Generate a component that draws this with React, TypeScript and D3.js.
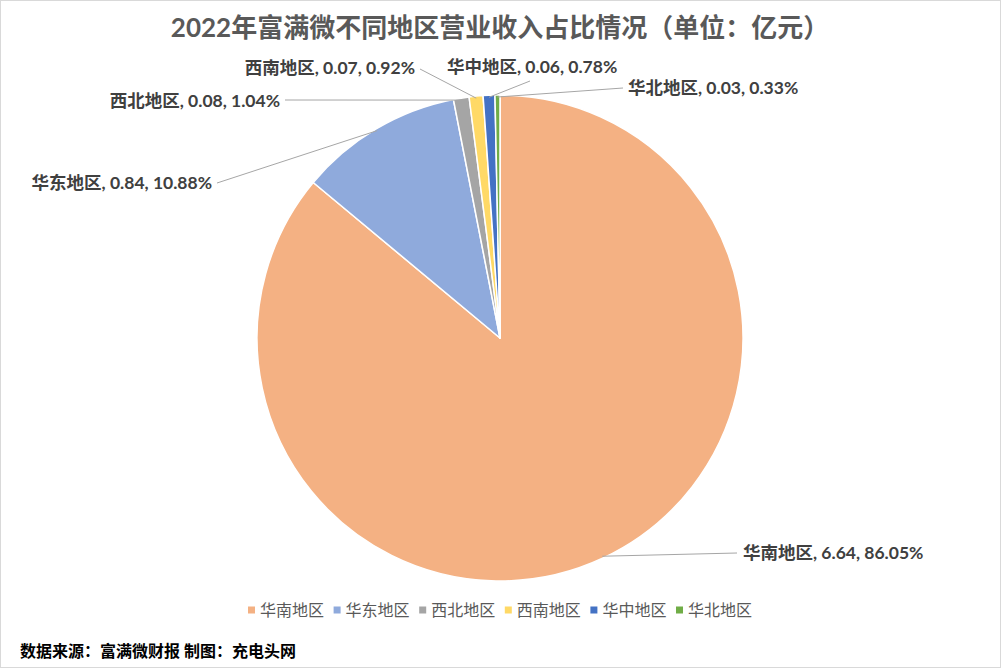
import React, { useEffect, useRef } from 'react';
import * as d3 from 'd3';

// Data
const regions = ['华南地区', '华东地区', '西北地区', '西南地区', '华中地区', '华北地区'];
const revenue = [6.64, 0.84, 0.08, 0.07, 0.06, 0.03];
const shares = [86.05, 10.88, 1.04, 0.92, 0.78, 0.33];
const colors = ['#F4B183', '#8FAADC', '#A5A5A5', '#FFD966', '#4472C4', '#70AD47'];

const title = '2022年富满微不同地区营业收入占比情况（单位：亿元）';
const footnote = '数据来源：富满微财报 制图：充电头网';

// Label layout (text anchor point + where the leader line leaves the label)
const labelLayout = [
  { x: 743, y: 553, anchor: 'start', lx: 737, ly: 553 },
  { x: 212, y: 183, anchor: 'end', lx: 217, ly: 183 },
  { x: 280, y: 101, anchor: 'end', lx: 285, ly: 100 },
  { x: 415, y: 68, anchor: 'end', lx: 420, ly: 69 },
  { x: 447, y: 67, anchor: 'start', lx: 530, ly: 81 },
  { x: 628, y: 88, anchor: 'start', lx: 623, ly: 88 },
];

const W = 1001;
const H = 668;
const FONT = "Lato, 'Noto Sans CJK SC', sans-serif";

const App: React.FC = () => {
  const svgRef = useRef<SVGSVGElement>(null);

  useEffect(() => {
    document.body.style.margin = '0';
    const svg = d3.select(svgRef.current);
    svg.selectAll('*').remove();

    svg.append('rect')
      .attr('x', 0.5).attr('y', 0.5)
      .attr('width', W - 1).attr('height', H - 1)
      .attr('fill', '#fff')
      .attr('stroke', '#D9D9D9');

    // Title
    svg.append('text')
      .attr('x', 500).attr('y', 28)
      .attr('dy', '0.35em')
      .attr('text-anchor', 'middle')
      .style('font-family', FONT)
      .style('font-size', '26px')
      .style('font-weight', 'bold')
      .style('fill', '#595959')
      .text(title);

    const cx = 500, cy = 338, r = 243;
    const data = regions.map((name, i) => ({ name, value: revenue[i], share: shares[i], color: colors[i] }));

    const pie = d3.pie<typeof data[0]>()
      .sort(null)
      .value(d => d.share)
      .startAngle(0)
      .endAngle(2 * Math.PI);
    const arcs = pie(data);
    const arc = d3.arc<d3.PieArcDatum<typeof data[0]>>().innerRadius(0).outerRadius(r);
    const edge = d3.arc<d3.PieArcDatum<typeof data[0]>>().innerRadius(r - 2).outerRadius(r - 2);

    const g = svg.append('g').attr('transform', `translate(${cx},${cy})`);
    g.selectAll('path.slice')
      .data(arcs)
      .enter()
      .append('path')
      .attr('class', 'slice')
      .attr('d', arc)
      .attr('fill', d => d.data.color)
      .attr('stroke', '#fff')
      .attr('stroke-width', 1.5)
      .attr('stroke-linejoin', 'round');

    // Leader lines and labels
    arcs.forEach((d, i) => {
      const [ex, ey] = edge.centroid(d);
      const L = labelLayout[i];
      svg.append('line')
        .attr('x1', L.lx).attr('y1', L.ly)
        .attr('x2', cx + ex).attr('y2', cy + ey)
        .attr('stroke', '#A6A6A6')
        .attr('stroke-width', 1);
      svg.append('text')
        .attr('x', L.x).attr('y', L.y)
        .attr('dy', '0.35em')
        .attr('text-anchor', L.anchor)
        .style('font-family', FONT)
        .style('font-size', '17.5px')
        .style('font-weight', 'bold')
        .style('fill', '#404040')
        .text(`${d.data.name}, ${d.data.value.toFixed(2)}, ${d.data.share.toFixed(2)}%`);
    });

    // Legend
    const legendX = 248, legendStep = 85.6, legendY = 610;
    data.forEach((d, i) => {
      const lg = svg.append('g').attr('transform', `translate(${legendX + i * legendStep},${legendY})`);
      lg.append('rect')
        .attr('x', 0).attr('y', -3.5)
        .attr('width', 7).attr('height', 7)
        .attr('fill', d.color);
      lg.append('text')
        .attr('x', 12).attr('y', 0)
        .attr('dy', '0.35em')
        .style('font-family', FONT)
        .style('font-size', '16px')
        .style('fill', '#595959')
        .text(d.name);
    });

    // Footnote
    svg.append('text')
      .attr('x', 20).attr('y', 651)
      .attr('dy', '0.35em')
      .style('font-family', FONT)
      .style('font-size', '16px')
      .style('font-weight', 'bold')
      .style('fill', '#000')
      .text(footnote);
  }, []);

  return <svg ref={svgRef} width={W} height={H} style={{ display: 'block' }} />;
};

export default App;
